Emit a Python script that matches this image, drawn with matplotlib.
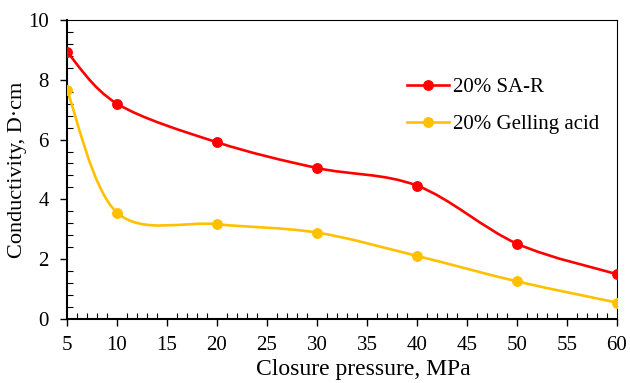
import matplotlib
matplotlib.use("Agg")
import matplotlib.pyplot as plt
from matplotlib.path import Path
from matplotlib.patches import PathPatch
from matplotlib.lines import Line2D
from matplotlib.ticker import MultipleLocator
import numpy as np

pressure = [5, 10, 20, 30, 40, 50, 60]
sa_r = [8.93, 7.20, 5.91, 5.05, 4.46, 2.52, 1.50]
gelling = [7.66, 3.56, 3.17, 2.89, 2.11, 1.26, 0.55]
names = ["20% SA-R", "20% Gelling acid"]
colors = ["#FF0000", "#FFC000"]

plt.rcParams['font.family'] = ['Liberation Serif', 'DejaVu Serif']


def smooth_path(x, y):
	# excel style smoothed line: cubic bezier through the points
	pts = np.column_stack([x, y]).astype(float)
	n = len(pts)
	verts = [pts[0]]
	codes = [Path.MOVETO]
	for i in range(n - 1):
		p0 = pts[max(i - 1, 0)]
		p1 = pts[i]
		p2 = pts[i + 1]
		p3 = pts[min(i + 2, n - 1)]
		c1 = p1 + (p2 - p0) / 6.0
		c2 = p2 - (p3 - p1) / 6.0
		verts += [c1, c2, p2]
		codes += [Path.CURVE4] * 3
	return Path(verts, codes)


fig = plt.figure(figsize=(6.3, 3.83), dpi=100)
ax = fig.add_axes([0.1063, 0.167, 0.873, 0.781])

handles = []
for vals, name, c in zip([sa_r, gelling], names, colors):
	ax.add_patch(PathPatch(smooth_path(pressure, vals), facecolor='none', edgecolor=c, lw=1.9, zorder=2))
	ax.plot(pressure, vals, ls='none', marker='o', ms=6.8, color=c, zorder=3)
	handles.append(Line2D([], [], color=c, lw=1.9, marker='o', ms=6.8))

ax.set_xlim(5, 60)
ax.set_ylim(0, 10)
ax.xaxis.set_major_locator(MultipleLocator(5))
ax.xaxis.set_minor_locator(MultipleLocator(1))
ax.yaxis.set_major_locator(MultipleLocator(2))
ax.yaxis.set_minor_locator(MultipleLocator(0.4))
ax.tick_params(which='major', direction='out', length=5, width=1, labelsize=15, colors='black')
ax.tick_params(which='minor', direction='in', length=4, width=0.8)
ax.tick_params(axis='x', which='major', pad=7)
ax.tick_params(axis='y', which='major', pad=8)
for s in ['bottom', 'left']:
	ax.spines[s].set_linewidth(1.5)
for s in ['top', 'right']:
	ax.spines[s].set_linewidth(0.8)

ax.set_xlabel("Closure pressure, MPa", fontsize=17)
ax.set_ylabel("Conductivity, D·cm", fontsize=16)
ax.xaxis.set_label_coords(0.538, -0.135)
ax.yaxis.set_label_coords(-0.072, 0.5)

ax.legend(handles, names, loc='upper left', bbox_to_anchor=(0.585, 0.87), frameon=False,
	fontsize=15, handlelength=2.0, handletextpad=0.2, labelspacing=0.85)

fig.savefig("out.png", dpi=100)
